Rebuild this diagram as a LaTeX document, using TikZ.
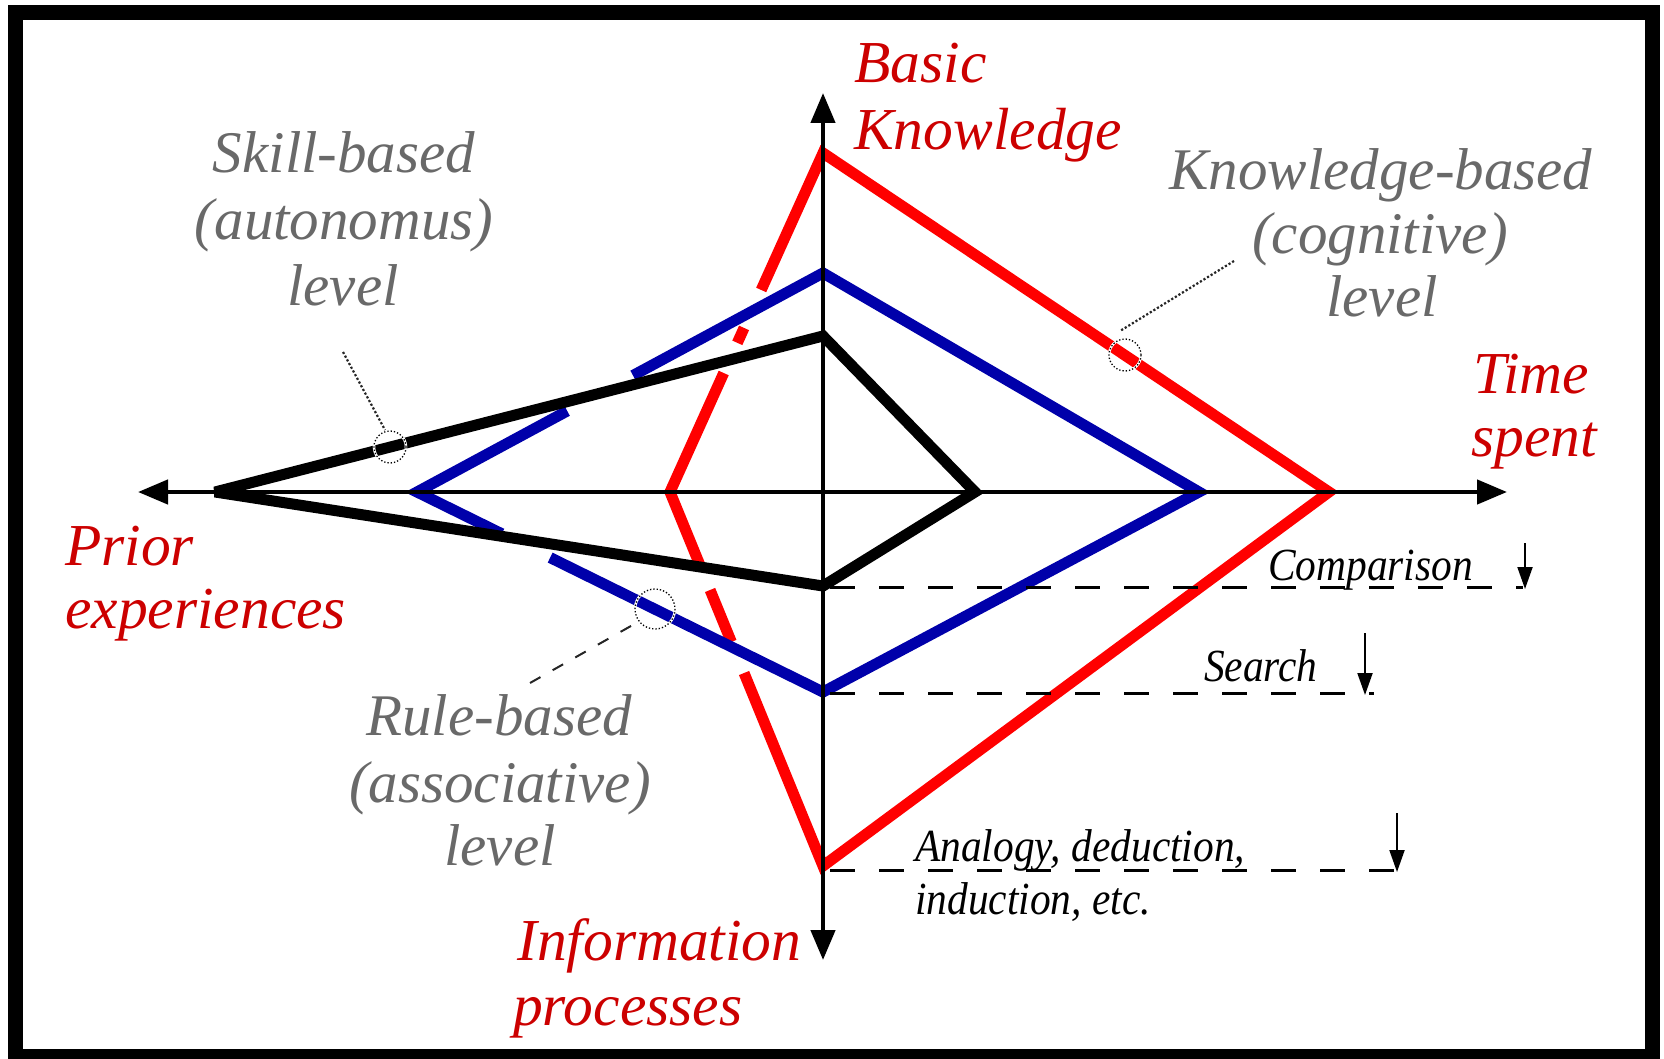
\documentclass[tikz,border=0pt]{standalone}
\usepackage{fontspec}
\setmainfont{Liberation Serif}
\newfontfamily\narrowserif[FakeStretch=0.9]{Liberation Serif}
\usetikzlibrary{arrows.meta,calc}
\definecolor{lblred}{RGB}{204,0,0}
\definecolor{lnred}{RGB}{255,0,0}
\definecolor{lnblue}{RGB}{0,0,170}
\definecolor{lblgray}{RGB}{105,105,105}
\tikzset{
  axisline/.style={line width=4.5pt, black},
  bigtip/.style={{Triangle[length=30pt,width=24pt]}-{Triangle[length=30pt,width=24pt]}},
  poly/.style={line width=11pt, line join=miter, miter limit=3},
  refdash/.style={line width=3pt, dash pattern=on 25pt off 24pt},
  smallarr/.style={line width=2pt, -{Triangle[length=22pt,width=15pt]}},
  bigred/.style={text=lblred, font=\fontsize{59.5}{64}\selectfont\itshape, inner sep=0pt, anchor=base west},
  graylbl/.style={text=lblgray, font=\fontsize{59}{64}\selectfont\itshape, inner sep=0pt, anchor=base},
  small/.style={font=\narrowserif\fontsize{46}{52}\selectfont\itshape, inner sep=0pt, anchor=base west},
  ring/.style={draw=white, line width=2.5pt},
  ringdot/.style={draw=black, line width=1.3pt, dotted},
  leader/.style={draw=black!85, line width=2.2pt, dotted},
  leaderdash/.style={draw=black!85, line width=2pt, dash pattern=on 12pt off 14pt}
}
\begin{document}
\begin{tikzpicture}[x=1pt,y=-1pt]
\useasboundingbox (0,0) rectangle (1664,1059);
% frame
\draw[line width=15pt] (15.5,12.5) rectangle (1652.5,1056);

% coordinates
\coordinate (xl) at (138,492);
\coordinate (xr) at (1507,492);
\coordinate (yt) at (823,93);
\coordinate (yb) at (823,960);

\coordinate (rT) at (823,153);
\coordinate (rR) at (1329,492);
\coordinate (rB) at (823,866);
\coordinate (rL) at (670,492);

\coordinate (bT) at (823,273);
\coordinate (bR) at (1199,492);
\coordinate (bB) at (823,692);
\coordinate (bL) at (417,492);

\coordinate (kT) at (823,336);
\coordinate (kR) at (975,492);
\coordinate (kB) at (823,586);
\coordinate (kL) at (215,492);

% red diamond (left half dashed)
\draw[poly,lnred] ($(rT)!0.404!(rL)$) -- (rT) -- (rR) -- (rB) -- ($(rL)!0.484!(rB)$);
\draw[poly,lnred] ($(rT)!0.516!(rL)$) -- ($(rT)!0.56!(rL)$);
\draw[poly,lnred] ($(rT)!0.649!(rL)$) -- (rL) -- ($(rL)!0.2!(rB)$);
\draw[poly,lnred] ($(rL)!0.262!(rB)$) -- ($(rL)!0.401!(rB)$);

% blue diamond (left half dashed)
\draw[poly,lnblue] ($(bL)!0.532!(bT)$) -- (bT) -- (bR) -- (bB) -- ($(bL)!0.328!(bB)$);
\draw[poly,lnblue] ($(bL)!0.37!(bT)$) -- (bL) -- ($(bL)!0.209!(bB)$);

% black diamond
\draw[poly,black] (kT) -- (kR) -- (kB) -- (kL) -- cycle;

% axes
\draw[axisline,bigtip] (xl) -- (xr);
\draw[axisline,bigtip] (yt) -- (yb);

% reference dashed lines
\coordinate (cmpS) at (830,587);
\coordinate (cmpE) at (1523,587);
\coordinate (srchS) at (830,693);
\coordinate (srchE) at (1374,693);
\coordinate (anaS) at (830,870);
\coordinate (anaE) at (1411,870);
\draw[refdash] (cmpS) -- (cmpE);
\draw[refdash] (srchS) -- (srchE);
\draw[refdash] (anaS) -- (anaE);

% small down arrows
\coordinate (a1s) at (1525,543);
\coordinate (a1e) at (1525,589);
\coordinate (a2s) at (1365,633);
\coordinate (a2e) at (1365,695);
\coordinate (a3s) at (1397,813);
\coordinate (a3e) at (1397,872);
\draw[smallarr] (a1s) -- (a1e);
\draw[smallarr] (a2s) -- (a2e);
\draw[smallarr] (a3s) -- (a3e);

% callouts
\coordinate (cS) at (390,447);
\coordinate (cK) at (1125,355);
\coordinate (cR) at (655,609);
\draw[ring] (cS) circle (16);
\draw[ringdot] (cS) circle (16);
\draw[ring] (cK) circle (16);
\draw[ringdot] (cK) circle (16);
\draw[ring] (cR) circle (20);
\draw[ringdot] (cR) circle (20);
\coordinate (lS1) at (343,352);
\coordinate (lS2) at (385,430);
\draw[leader] (lS1) -- (lS2);
\coordinate (lK1) at (1234,261);
\coordinate (lK2) at (1120,331);
\draw[leader] (lK1) -- (lK2);
\coordinate (lR1) at (530,683);
\coordinate (lR2) at (638,622);
\draw[leaderdash] (lR1) -- (lR2);

% red labels
\node[bigred] (basic1) at (854,83) {Basic};
\node[bigred] (basic2) at (854,150) {Knowledge};
\node[bigred] (time1) at (1473,393) {Time};
\node[bigred] (time2) at (1471,456) {spent};
\node[bigred] (prior1) at (65,565) {Prior};
\node[bigred] (prior2) at (65,628) {experiences};
\node[bigred] (info1) at (517,960) {Information};
\node[bigred] (info2) at (513,1025) {processes};

% gray labels
\node[graylbl] (sk1) at (344,173) {Skill-based};
\node[graylbl] (sk2) at (344,240) {(autonomus)};
\node[graylbl] (sk3) at (343,305) {level};
\node[graylbl] (kb1) at (1381,190) {Knowledge-based};
\node[graylbl] (kb2) at (1380,254) {(cognitive)};
\node[graylbl] (kb3) at (1382,316) {level};
\node[graylbl] (rb1) at (499,735) {Rule-based};
\node[graylbl] (rb2) at (500,802) {(associative)};
\node[graylbl] (rb3) at (500,865) {level};

% small labels
\node[small] (cmp) at (1268,580) {Comparison};
\node[small] (srch) at (1204,681) {Search};
\node[small] (ana1) at (915,861) {Analogy, deduction,};
\node[small] (ana2) at (915,914) {induction, etc.};
\end{tikzpicture}
\end{document}
